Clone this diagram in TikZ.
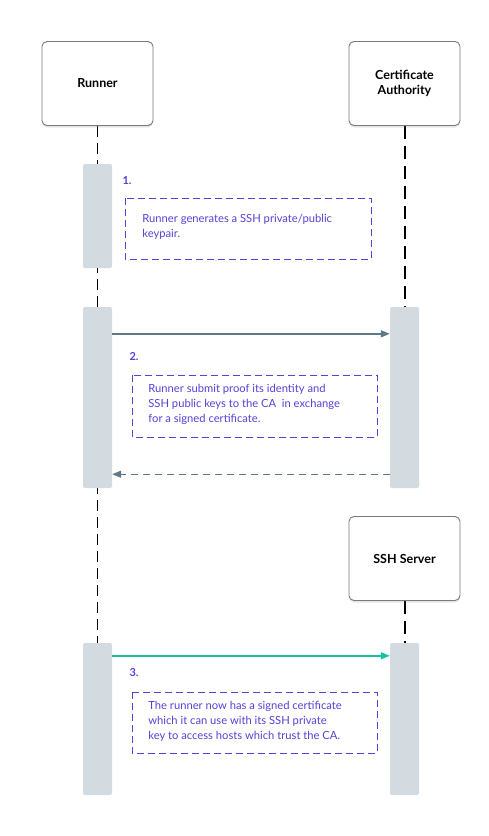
\documentclass[tikz,border=0pt]{standalone}
\usepackage{fontspec}
\setmainfont{Lato}
\usepackage{xcolor}
\definecolor{notepurple}{HTML}{5A3ED6}
\definecolor{barfill}{HTML}{D3DBE0}
\definecolor{msgslate}{HTML}{5F7987}
\definecolor{msgteal}{HTML}{16C2A3}
\definecolor{boxline}{HTML}{7A7A7A}
\usepackage{tikz}
\usetikzlibrary{arrows.meta,positioning,shadows,backgrounds}

\begin{document}
\begin{tikzpicture}[x=1pt,y=-1pt,
    actor/.style={draw=boxline,line width=0.9pt,fill=white,rounded corners=5pt,
                  minimum width=111pt,minimum height=84pt,align=center,
                  font=\fontsize{12.5}{15}\selectfont\bfseries,
                  drop shadow={shadow xshift=0pt,shadow yshift=-2pt,opacity=0.2}},
    bar/.style={fill=barfill,rounded corners=2pt,minimum width=29pt,inner sep=0pt},
    note/.style={draw=notepurple,dash pattern=on 7pt off 4pt,line width=0.8pt,
                 text=notepurple,align=left,anchor=north west,
                 font=\fontsize{11.2}{15.3}\selectfont,inner sep=0pt},
    num/.style={text=notepurple,font=\fontsize{11}{12}\selectfont\bfseries,anchor=west},
    life/.style={black,dash pattern=on 11pt off 6pt,line width=0.9pt},
    msg/.style={-{Triangle[length=9pt,width=7pt]},line width=1.4pt}]
  \useasboundingbox (0,0) rectangle (489,836);

  % participants
  \node[actor] (runner) at (97.5,83.5) {Runner};
  \node[actor] (ca) at (404.5,83.5) {Certificate\\Authority};
  \node[actor] (ssh) at (404.5,558.5) {SSH Server};

  % activation bars
  \node[bar,minimum height=104pt] (rb1) at (97.5,216) {};
  \node[bar,minimum height=181pt] (rb2) at (97.5,397.5) {};
  \node[bar,minimum height=181pt] (cb2) at (404.5,397.5) {};
  \node[bar,minimum height=152pt] (rb3) at (97.5,719) {};
  \node[bar,minimum height=152pt] (sb3) at (404.5,719) {};

  % lifelines
  \begin{scope}[on background layer]
    \draw[life] (runner.south) -- (rb3.north);
    \draw[life,line width=2pt,dash pattern=on 13pt off 7pt] (ca.south) -- (cb2.north);
    \draw[life,line width=2pt,dash pattern=on 13pt off 7pt] (ssh.south) -- (sb3.north);
  \end{scope}

  % step 1
  \node[num] (n1) at (119,181) {1.};
  \draw[note] (125,198) rectangle (371,259);
  \node[note,draw=none] (t1) at (142,213.5) {Runner generates a SSH private/public\\keypair.};

  % step 2
  \draw[msg,msgslate] ([yshift=-27pt]rb2.north east) -- ([yshift=-27pt]cb2.north west);
  \node[num] (n2) at (126,357) {2.};
  \draw[note] (132,375) rectangle (377,437);
  \node[note,draw=none] (t2) at (148,383.5) {Runner submit proof its identity and\\SSH public keys to the CA\ \ in exchange\\for a signed certificate.};
  \draw[msg,msgslate,line width=1.2pt,dash pattern=on 7pt off 5pt] ([yshift=14pt]cb2.south west) -- ([yshift=14pt]rb2.south east);

  % step 3
  \draw[msg,msgteal] ([yshift=-13pt]rb3.north east) -- ([yshift=-13pt]sb3.north west);
  \node[num] (n3) at (126,673) {3.};
  \draw[note] (132,692) rectangle (377,753);
  \node[note,draw=none] (t3) at (148,700.5) {The runner now has a signed certificate\\which it can use with its SSH private\\key to access hosts which trust the CA.};
\end{tikzpicture}
\end{document}
